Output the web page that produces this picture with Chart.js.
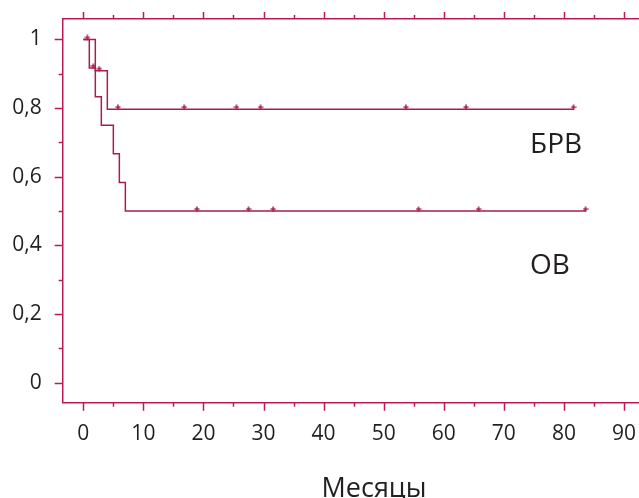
<!DOCTYPE html>
<html>
<head>
<meta charset="utf-8">
<script src="https://cdn.jsdelivr.net/npm/chart.js@4/dist/chart.umd.min.js"></script>
<style>
    body { margin: 0; background: #fff; }
    #wrap { width: 639px; height: 498px; }
</style>
</head>
<body>
<div id="wrap"><canvas id="km" width="639" height="498"></canvas></div>
<script>
// Kaplan–Meier: ОВ (overall) and БРВ (relapse-free), months
const osTimes = [0, 1, 2, 3, 5, 6, 7, 83.7];
const osSurv = [1, 0.917, 0.833, 0.75, 0.667, 0.583, 0.5, 0.5];
const brvTimes = [0, 2, 4, 81.7];
const brvSurv = [1, 0.909, 0.797, 0.797];

const brvCensored = [0.67, 2.66, 5.77, 16.8, 25.5, 29.5, 53.7, 63.7, 81.6];
const osCensored = [1.67, 18.9, 27.5, 31.6, 55.8, 65.8, 83.6];

const xTicks = [0, 10, 20, 30, 40, 50, 60, 70, 80, 90];
const yTicks = [0, 0.2, 0.4, 0.6, 0.8, 1];

const curveColor = '#a91d4d';
const axisColor = '#bd1a55';
const textColor = '#231f20';
const fontFamily = '"Open Sans", "Noto Sans", sans-serif';

const toPoints = (xs, ys) => xs.map((x, i) => ({ x, y: ys[i] }));
const levelAt = (xs, ys, t) => {
    let v = ys[0];
    xs.forEach((x, i) => { if (x <= t) v = ys[i]; });
    return v;
};

const fmtY = v => (v === 0 || v === 1) ? String(v) : v.toFixed(1).replace('.', ',');

const fixTicks = list => scale => { scale.ticks = list.map(value => ({ value })); };

// censor mark: small "+" sitting just above the curve
const censorMark = (() => {
    const c = document.createElement('canvas');
    c.width = 6;
    c.height = 10;
    const g = c.getContext('2d');
    g.strokeStyle = curveColor;
    g.lineWidth = 1.6;
    g.beginPath();
    g.moveTo(3, 0.5); g.lineTo(3, 5.5);
    g.moveTo(0.5, 3); g.lineTo(5.5, 3);
    g.stroke();
    return c;
})();

const tickMarks = {
    id: 'tickMarks',
    afterDraw(chart) {
        const { ctx } = chart;
        const x = chart.scales.x, y = chart.scales.y, area = chart.chartArea;
        ctx.save();
        ctx.strokeStyle = axisColor;
        ctx.lineWidth = 1.5;
        ctx.beginPath();
        for (let v = 0; v <= 90; v += 5) {
            const px = Math.round(x.getPixelForValue(v)) + 0.5;
            const major = v % 10 === 0;
            ctx.moveTo(px, area.bottom);
            ctx.lineTo(px, area.bottom + (major ? 8 : 4));
            ctx.moveTo(px, area.top);
            ctx.lineTo(px, area.top - (major ? 7 : 4));
        }
        for (let i = 0; i <= 10; i++) {
            const py = Math.round(y.getPixelForValue(i / 10)) + 0.5;
            ctx.moveTo(area.left, py);
            ctx.lineTo(area.left - (i % 2 === 0 ? 8 : 4), py);
        }
        ctx.stroke();

        ctx.fillStyle = textColor;
        ctx.textBaseline = 'alphabetic';
        ctx.font = '28px ' + fontFamily;
        ctx.textAlign = 'left';
        ctx.fillText('БРВ', 530, 153);
        ctx.fillText('ОВ', 530, 274);
        ctx.font = '27px ' + fontFamily;
        ctx.textAlign = 'center';
        ctx.fillText('Месяцы', 374, 497);
        ctx.restore();
    }
};

new Chart(document.getElementById('km'), {
    type: 'line',
    data: {
        datasets: [
            {
                data: toPoints(brvTimes, brvSurv),
                stepped: 'before',
                borderColor: curveColor,
                borderWidth: 1.5,
                pointRadius: 0,
                fill: false
            },
            {
                data: toPoints(osTimes, osSurv),
                stepped: 'before',
                borderColor: curveColor,
                borderWidth: 1.5,
                pointRadius: 0,
                fill: false
            },
            {
                data: brvCensored.map(t => ({ x: t, y: levelAt(brvTimes, brvSurv, t) })),
                showLine: false,
                pointStyle: censorMark,
                pointRadius: 3
            },
            {
                data: osCensored.map(t => ({ x: t, y: levelAt(osTimes, osSurv, t) })),
                showLine: false,
                pointStyle: censorMark,
                pointRadius: 3
            }
        ]
    },
    options: {
        responsive: false,
        animation: false,
        layout: { padding: 0, autoPadding: false },
        plugins: { legend: { display: false }, tooltip: { enabled: false } },
        scales: {
            x: {
                type: 'linear',
                position: 'bottom',
                min: -3.43,
                max: 92.5,
                afterBuildTicks: fixTicks(xTicks),
                afterFit: s => { s.height = 95.3; s.paddingLeft = 0; s.paddingRight = 0; },
                grid: { display: false, drawTicks: false },
                border: { display: true, color: axisColor, width: 1.5 },
                ticks: {
                    color: textColor,
                    font: { family: fontFamily, size: 21 },
                    padding: 19,
                    maxRotation: 0,
                    autoSkip: false
                }
            },
            x2: {
                type: 'linear',
                position: 'top',
                min: -3.43,
                max: 92.5,
                afterFit: s => { s.height = 19; s.paddingLeft = 0; s.paddingRight = 0; },
                grid: { display: false, drawTicks: false },
                border: { display: true, color: axisColor, width: 1.5 },
                ticks: { display: false }
            },
            y: {
                min: -0.0583,
                max: 1.0597,
                afterBuildTicks: fixTicks(yTicks),
                afterFit: s => { s.width = 62.7; s.paddingTop = 0; s.paddingBottom = 0; },
                grid: { display: false, drawTicks: false },
                border: { display: true, color: axisColor, width: 1.5 },
                ticks: {
                    color: textColor,
                    font: { family: fontFamily, size: 21 },
                    padding: 21,
                    callback: v => fmtY(v)
                }
            }
        }
    },
    plugins: [tickMarks]
});
</script>
</body>
</html>
